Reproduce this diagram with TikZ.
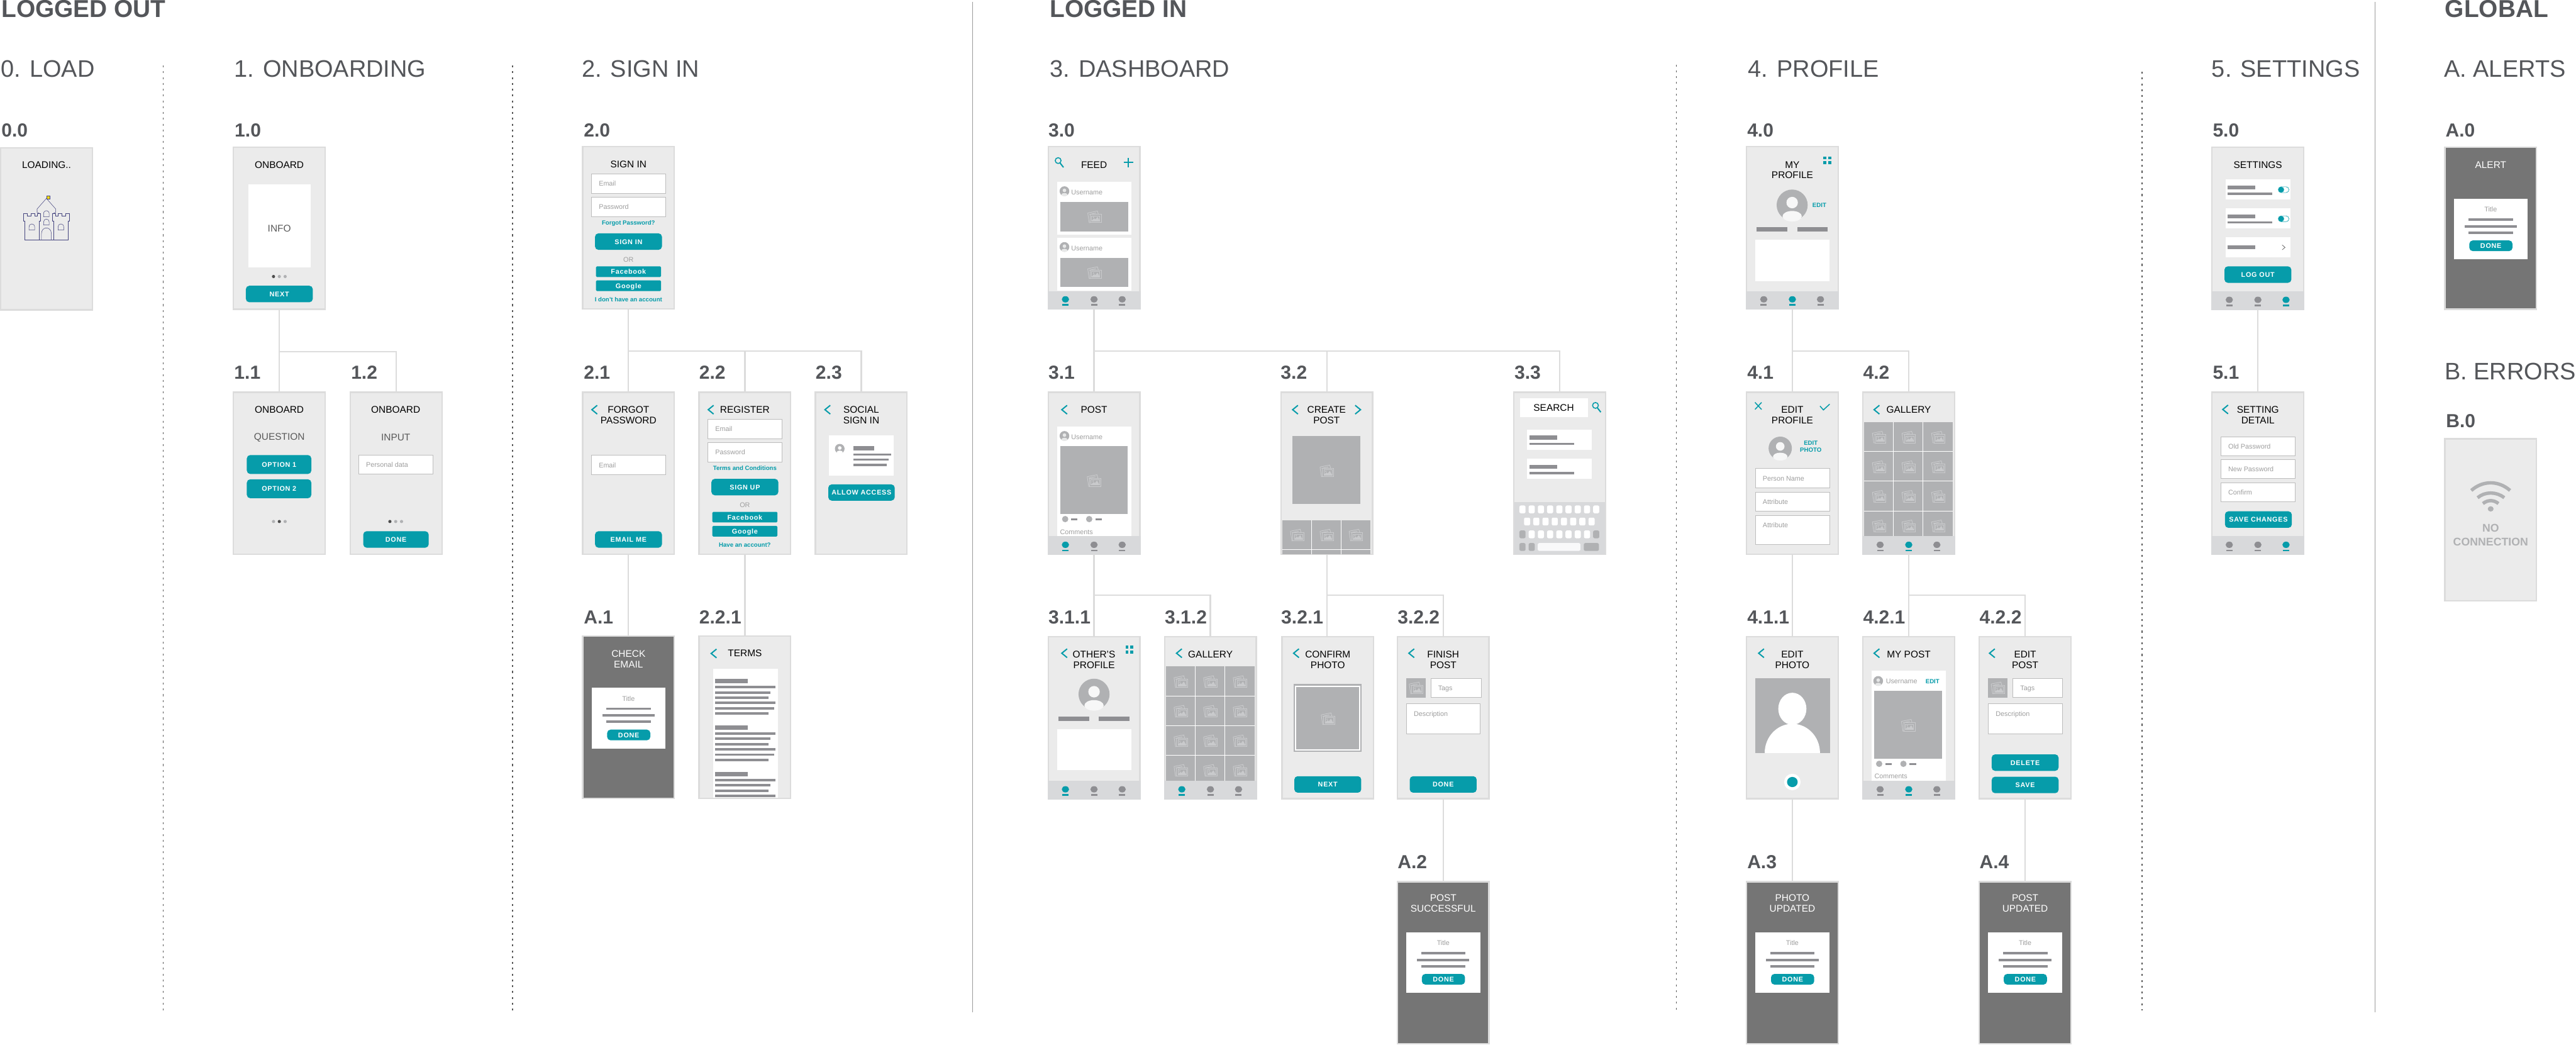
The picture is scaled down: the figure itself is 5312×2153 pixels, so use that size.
\documentclass[tikz,border=0pt]{standalone}
\usepackage{fontspec}
\setmainfont{Liberation Sans}
\newfontfamily\btnf{Liberation Sans}[LetterSpace=7]
\definecolor{scrfill}{HTML}{EBEBEB}
\definecolor{scredge}{HTML}{DCDCDC}
\definecolor{tealc}{HTML}{069CAA}
\definecolor{darkscr}{HTML}{757575}
\definecolor{barc}{HTML}{D8D9DB}
\definecolor{navg}{HTML}{8E8E92}
\definecolor{imgc}{HTML}{B0B1B3}
\definecolor{headc}{HTML}{54565A}
\definecolor{iconc}{HTML}{C9CACC}
\definecolor{inedge}{HTML}{BDBDBD}
\definecolor{phc}{HTML}{9E9E9E}
\definecolor{castle}{HTML}{45457F}
\definecolor{divc}{HTML}{9A9A9A}
\tikzset{
 scr/.style={draw=scredge,fill=scrfill,line width=1.5pt,minimum width=94.5pt,minimum height=167pt,inner sep=0pt,outer sep=0pt},
 dscr/.style={scr,fill=darkscr},
 link/.style={draw=scredge,line width=1.5pt},
 txt/.style={inner sep=0pt,outer sep=0pt,font=\fontsize{10}{11}\selectfont,text=black,align=center},
 wh/.style={txt,text=white},
 sub/.style={txt,text=black!65},
 ph/.style={txt,font=\fontsize{7}{8}\selectfont,text=phc,anchor=mid west},
 phc2/.style={txt,font=\fontsize{7}{8}\selectfont,text=phc,anchor=mid},
 lk/.style={txt,font=\fontsize{6.25}{7}\selectfont\bfseries,text=tealc,anchor=mid},
 bt/.style={txt,font=\btnf\fontsize{7}{8}\selectfont\bfseries,text=white,anchor=mid},
 head/.style={inner sep=0pt,outer sep=0pt,anchor=base west,font=\fontsize{24.6}{27}\selectfont,text=headc},
 grouphead/.style={head,font=\fontsize{25.2}{27}\selectfont\bfseries},
 lab/.style={head,font=\fontsize{19.5}{21}\selectfont\bfseries},
 inbox/.style={draw=inedge,fill=white,line width=.5pt},
 chv/.style={draw=tealc,line width=1.3pt},
 ic/.style={draw=iconc,line width=.6pt},
 dotdiv/.style={draw=black!65,line width=.8pt,dash pattern=on 2pt off 4pt},
 soldiv/.style={draw=divc,line width=.7pt},
}
\newcount\nid
\newcommand\tx[4]{\global\advance\nid by 1 \node[#1] (t\the\nid) at ({#2},{#3}) {#4};}
\newcommand\rct[5]{\fill[#5] (#1,#2) rectangle (#3,#4);}
\newcommand\lnb[4]{\fill[navg] (#1,#3-#4/2) rectangle (#2,#3+#4/2);}
\newcommand\inp[5]{\draw[inbox] (#1,#2) rectangle (#3,#4); \tx{ph}{#1+15}{(#2+#4)/2}{#5}}
\newcommand\btn[5]{\fill[tealc,rounded corners=3.5pt] (#1,#2) rectangle (#3,#4); \tx{bt}{(#1+#3)/2}{(#2+#4)/2}{#5}}
\newcommand\sbtn[5]{\fill[tealc,rounded corners=1pt] (#1,#2) rectangle (#3,#4); \tx{bt}{(#1+#3)/2}{(#2+#4)/2}{#5}}
\newcommand\chev[2]{\draw[chv] (#1+5.5,#2-9) -- (#1-5.5,#2) -- (#1+5.5,#2+9);}
\newcommand\chevr[2]{\draw[chv] (#1-5.5,#2-9) -- (#1+5.5,#2) -- (#1-5.5,#2+9);}
\newcommand\srch[2]{\draw[tealc,line width=1pt] (#1-3,#2-4) circle (6); \draw[tealc,line width=1.3pt] (#1+1,#2+1) -- (#1+8,#2+10);}
\newcommand\gridic[2]{\foreach \a in {-5,5}{\foreach \b in {-5,5}{\fill[tealc] (#1+\a-3,#2+\b-3) rectangle (#1+\a+3,#2+\b+3);}}}
\newcommand\icon[2]{\begin{scope}[shift={(#1,#2)}]
 \draw[ic] (-14,-8) -- (6,-12) -- (8,-5);
 \draw[ic] (-14,-8) -- (-11,12) -- (-9,12);
 \draw[ic] (-11,-5) -- (3,-8);
 \draw[ic] (-9,-5) rectangle (14,12);
 \draw[ic] (-6,-2) rectangle (11,9);
 \draw[ic,fill=iconc] (-5,8) -- (-1,4) -- (2,6) -- (6,1) -- (10,8) -- cycle;
 \fill[iconc] (-2,1) circle (1.5);
 \end{scope}}
\newcommand\avat[4]{\begin{scope}[shift={(#1,#2)},scale=#3]
 \fill[imgc] (0,0) circle (1);
 \fill[#4] (0,-.16) circle (.37);
 \fill[#4] (0,.72) ellipse [x radius=.62,y radius=.34];
 \end{scope}}
\newcommand\navdot[2]{\fill[#2] (#1,316) ellipse [x radius=7.5,y radius=6.5]; \fill[#2] (#1-6.5,326) rectangle (#1+6.5,329);}
\newcommand\navb[2]{\fill[barc] (0,#1) rectangle (192,337);
 \ifnum#2=1 \navdot{37}{tealc}\else\navdot{37}{navg}\fi
 \ifnum#2=2 \navdot{96}{tealc}\else\navdot{96}{navg}\fi
 \ifnum#2=3 \navdot{154}{tealc}\else\navdot{154}{navg}\fi}
\newcommand\pdots[2]{
 \ifnum#2=1 \fill[black!70] (#1-12,268) circle (3.3);\else\fill[imgc] (#1-12,268) circle (3.3);\fi
 \ifnum#2=2 \fill[black!70] (#1,268) circle (3.3);\else\fill[imgc] (#1,268) circle (3.3);\fi
 \ifnum#2=3 \fill[black!70] (#1+12,268) circle (3.3);\else\fill[imgc] (#1+12,268) circle (3.3);\fi}
\newcommand\aldlg[1]{\fill[white] (20,#1) rectangle (172.5,#1+125);
 \tx{phc2}{96}{#1+22}{Title}
 \lnb{50.5}{142}{#1+43}{5}\lnb{42}{150}{#1+57}{5}\lnb{50.5}{142}{#1+70}{5}
 \btn{52}{#1+86}{141}{#1+108}{DONE}}
\newcommand\screen[5][scr]{\node[#1,anchor=north west] (#2) at (#3+1.5,#4+1.5) {};
 \begin{scope}[shift={(#3,#4)}]#5\end{scope}}
\newcommand\galscr[1]{\fill[imgc] (4,63) rectangle (187,298);
 \foreach \v in {64.5,125.5}{\fill[white] (\v-.6,63) rectangle (\v+.6,298);}
 \foreach \v in {124,185,246}{\fill[white] (4,\v-.6) rectangle (187,\v+.6);}
 \foreach \a in {35,96,157}{\foreach \b in {94,155,216,277}{\icon{\a}{\b}}}
 \navb{298}{#1}}
\newcommand\tgl[1]{\draw[tealc,fill=white,line width=.4pt,rounded corners=3pt] (138,#1-6) rectangle (160,#1+6); \fill[tealc] (144,#1) circle (6);}
\newcommand\authf[3]{\inp{20}{57}{173}{97}{Email}\inp{20}{105}{173}{145}{Password}
 \tx{lk}{96}{157}{#1}\btn{27}{180}{165}{214}{#2}
 \tx{phc2}{96}{234}{OR}\sbtn{29}{248}{163}{270}{Facebook}\sbtn{29}{277}{163}{299}{Google}
 \tx{lk}{96}{315}{#3}}
\begin{document}
\begin{tikzpicture}[x=.5pt,y=-.5pt]
\useasboundingbox (0,0) rectangle (5312,2153);
\fill[white] (0,0) rectangle (5312,2153);
% dividers
\coordinate (d1a) at (337,135); \coordinate (d1b) at (337,2083);
\coordinate (d2a) at (1057,135); \coordinate (d2b) at (1057,2083);
\coordinate (d3a) at (3457,133); \coordinate (d3b) at (3457,2083);
\coordinate (d4a) at (4417,148); \coordinate (d4b) at (4417,2083);
\coordinate (g1a) at (2006,4); \coordinate (g1b) at (2006,2086);
\coordinate (g2a) at (4898,4); \coordinate (g2b) at (4898,2086);
\draw[dotdiv] (d1a) -- (d1b); \draw[dotdiv] (d2a) -- (d2b); \draw[dotdiv] (d3a) -- (d3b); \draw[dotdiv] (d4a) -- (d4b);
\draw[soldiv] (g1a) -- (g1b); \draw[soldiv] (g2a) -- (g2b);
% headings
\tx{grouphead}{3}{36}{LOGGED OUT}
\tx{grouphead}{2165}{36}{LOGGED IN}
\tx{grouphead}{5042}{36}{GLOBAL}
\tx{head}{2}{159}{0. LOAD}
\tx{head}{483}{159}{1. ONBOARDING}
\tx{head}{1200}{159}{2. SIGN IN}
\tx{head}{2165}{159}{3. DASHBOARD}
\tx{head}{3605}{159}{4. PROFILE}
\tx{head}{4561}{159}{5. SETTINGS}
\tx{head}{5040}{159}{A. ALERTS}
\tx{head}{5041}{783}{B. ERRORS}
% number labels
\tx{lab}{3}{282}{0.0}\tx{lab}{484}{282}{1.0}\tx{lab}{483}{782}{1.1}\tx{lab}{724}{782}{1.2}
\tx{lab}{1204}{282}{2.0}\tx{lab}{1204}{782}{2.1}\tx{lab}{1442}{782}{2.2}\tx{lab}{1682}{782}{2.3}
\tx{lab}{1204}{1286}{A.1}\tx{lab}{1442}{1286}{2.2.1}
\tx{lab}{2162}{282}{3.0}\tx{lab}{2162}{782}{3.1}\tx{lab}{2641}{782}{3.2}\tx{lab}{3123}{782}{3.3}
\tx{lab}{2162}{1286}{3.1.1}\tx{lab}{2402}{1286}{3.1.2}\tx{lab}{2642}{1286}{3.2.1}\tx{lab}{2882}{1286}{3.2.2}
\tx{lab}{2882}{1790}{A.2}
\tx{lab}{3603}{282}{4.0}\tx{lab}{3603}{782}{4.1}\tx{lab}{3842}{782}{4.2}
\tx{lab}{3603}{1286}{4.1.1}\tx{lab}{3842}{1286}{4.2.1}\tx{lab}{4082}{1286}{4.2.2}
\tx{lab}{3603}{1790}{A.3}\tx{lab}{4082}{1790}{A.4}
\tx{lab}{4563}{282}{5.0}\tx{lab}{4563}{782}{5.1}
\tx{lab}{5043}{282}{A.0}\tx{lab}{5044}{881}{B.0}
% 0.0
\screen{s00}{0}{303}{\tx{txt}{96}{37}{LOADING..}}
\begin{scope}[xscale=.6378,yscale=.7015,line width=.35pt]
 \draw[castle] (80,705) -- (80,650) -- (76,650) -- (76,628) -- (88,628) -- (88,634) -- (100,634) -- (100,628) -- (112,628) -- (112,634) -- (120,634) -- (120,628) -- (130,628) -- (130,650) -- (127,650) -- (127,705) -- cycle;
 \draw[castle] (220,705) -- (220,650) -- (225,650) -- (225,628) -- (212,628) -- (212,634) -- (200,634) -- (200,628) -- (188,628) -- (188,634) -- (180,634) -- (180,628) -- (170,628) -- (170,650) -- (173,650) -- (173,705) -- cycle;
 \draw[castle] (127,705) -- (173,705);
 \draw[castle] (130,628) -- (120,624) -- (120,614) -- (150,583) -- (180,614) -- (180,624) -- (170,628);
 \draw[castle] (134,705) -- (134,687) .. controls (134,664) and (166,664) .. (166,687) -- (166,705);
 \draw[castle] (94,676) -- (94,667) .. controls (94,655) and (112,655) .. (112,667) -- (112,676) -- cycle;
 \draw[castle] (188,676) -- (188,667) .. controls (188,655) and (206,655) .. (206,667) -- (206,676) -- cycle;
 \draw[castle] (141,637) -- (141,628) .. controls (141,616) and (159,616) .. (159,628) -- (159,637) -- cycle;
 \draw[castle] (141,661) -- (141,652) .. controls (141,641) and (159,641) .. (159,652) -- (159,661) -- cycle;
 \draw[castle] (150,583) -- (150,575);
 \draw[castle,fill=yellow!80!orange] (150,575) rectangle (162,584);
\end{scope}
% 1.x
\screen{s10}{480}{302}{\tx{txt}{96}{38}{ONBOARD}\rct{32}{78}{161}{249}{white}\tx{sub}{96}{169}{INFO}\pdots{96}{1}\btn{27}{287}{165}{321}{NEXT}}
\screen{s11}{480}{807}{\tx{txt}{96}{38}{ONBOARD}\tx{sub}{96}{94.5}{QUESTION}\btn{29}{131}{162}{170}{OPTION 1}\btn{29}{181}{162}{220}{OPTION 2}\pdots{96}{2}}
\screen{s12}{721}{807}{\tx{txt}{95}{38}{ONBOARD}\tx{sub}{95}{94.5}{INPUT}\inp{19}{131}{172}{170}{Personal data}\pdots{95}{1}\btn{28}{288}{163}{322}{DONE}}
% 2.x
\screen{s20}{1200}{301}{\tx{txt}{96}{37.5}{SIGN IN}\authf{Forgot Password?}{SIGN IN}{I don't have an account}}
\screen{s21}{1200}{807}{\chev{26}{37.5}\tx{txt}{96}{49}{FORGOT\\PASSWORD}\inp{20}{131.5}{173}{171.5}{Email}\btn{27}{288}{165}{322}{EMAIL ME}}
\screen{s22}{1440}{807}{\chev{26}{37.5}\tx{txt}{96}{37.5}{REGISTER}\authf{Terms and Conditions}{SIGN UP}{Have an account?}}
\screen{s23}{1680}{807}{\chev{26.6}{37.5}\tx{txt}{96}{49}{SOCIAL\\SIGN IN}\rct{29}{91}{163}{173}{white}\avat{51.6}{118}{10}{white}\lnb{80}{123}{116.5}{9}\lnb{80}{158}{130}{4.5}\lnb{80}{152}{140.5}{4.5}\lnb{80}{149}{151.5}{4.5}\btn{28}{191.5}{165}{225}{ALLOW ACCESS}}
\screen[dscr]{a1}{1200}{1310}{\tx{wh}{96}{48.5}{CHECK\\EMAIL}\aldlg{108}}
\screen{s221}{1440}{1310}{\chev{32}{37}\tx{txt}{96}{37}{TERMS}\rct{30}{68}{163.6}{334}{white}
 \lnb{35}{102}{94}{9}\lnb{35}{159}{106.6}{5}\lnb{35}{149}{117.4}{5}\lnb{35}{145}{128.3}{5}\lnb{35}{159}{139}{5}\lnb{35}{156}{150}{5}\lnb{35}{145}{160.8}{5}
 \lnb{35}{102}{189.5}{9}\lnb{35}{159}{202}{5}\lnb{35}{149}{213}{5}\lnb{35}{145}{224}{5}\lnb{35}{159}{235}{5}\lnb{35}{156}{245.6}{5}\lnb{35}{145}{256.5}{5}
 \lnb{35}{102}{285.8}{9}\lnb{35}{159}{298}{5}\lnb{35}{149}{308.8}{5}\lnb{35}{145}{319.6}{5}\lnb{35}{159}{330.4}{5}}
% 3.x
\screen{s30}{2160}{301}{\srch{25}{34}\tx{txt}{96}{38.7}{FEED}\draw[tealc,line width=1.2pt] (167,25) -- (167,44) (157,34) -- (177,34);
 \rct{20}{74}{173}{183}{white}\avat{35}{93}{10}{imgc!30}\tx{ph}{49}{95}{Username}\rct{26}{115.7}{166}{175.7}{imgc}\icon{97}{146}
 \rct{20}{189}{173}{298}{white}\avat{35}{208}{10}{imgc!30}\tx{ph}{49}{210}{Username}\rct{26}{230.8}{166}{290.8}{imgc}\icon{97}{261}
 \navb{299}{1}}
\screen{s31}{2160}{807}{\chev{35}{37.5}\tx{txt}{96}{38}{POST}\rct{20}{72}{173}{298}{white}\avat{35}{91.5}{10}{imgc!30}\tx{ph}{49}{93}{Username}\rct{26}{113}{165.6}{252}{imgc}\icon{96}{183.6}
 \fill[imgc] (36.5,263) circle (6.5);\lnb{49}{62}{263}{4}\fill[imgc] (86,263) circle (6.5);\lnb{99}{112}{263}{4}\tx{ph}{26}{289.7}{Comments}
 \navb{298}{1}}
\screen{s32}{2640}{807}{\chev{31}{37.5}\chevr{160}{37.5}\tx{txt}{95.5}{49}{CREATE\\POST}\rct{25}{92}{165}{232}{imgc}\icon{96}{163.6}
 \rct{3.7}{265}{186}{335}{imgc}\rct{64}{265}{65.2}{335}{white}\rct{124.5}{265}{125.7}{335}{white}\rct{3.7}{325.5}{186}{326.7}{white}\icon{35}{296}\icon{96}{296}\icon{156}{296}}
\screen{s33}{3120}{807}{\rct{14}{14}{155}{53}{white}\tx{txt}{84}{34}{SEARCH}\srch{173}{32.7}
 \rct{29}{79}{163}{120.6}{white}\lnb{34}{91}{95}{8}\lnb{34}{126.5}{108}{5}\rct{29}{138.8}{163}{180}{white}\lnb{34}{91}{155}{8}\lnb{34}{126.5}{168}{5}
 \rct{3}{228}{189}{335.5}{barc}
 \foreach \k in {0,...,8}{\fill[white,rounded corners=1.5pt] (19.5+19*\k-6.3,235) rectangle (19.5+19*\k+6.3,251);}
 \foreach \k in {0,...,7}{\fill[white,rounded corners=1.5pt] (29+19*\k-6.3,260) rectangle (29+19*\k+6.3,276);}
 \foreach \k in {1,...,7}{\fill[white,rounded corners=1.5pt] (19.5+19*\k-6.3,286.5) rectangle (19.5+19*\k+6.3,302.5);}
 \fill[imgc,rounded corners=1.5pt] (13.2,286.5) rectangle (25.8,302.5);\fill[imgc,rounded corners=1.5pt] (165.2,286.5) rectangle (177.8,302.5);
 \fill[imgc,rounded corners=1.5pt] (13.2,312.5) rectangle (25.8,328.5);\fill[imgc,rounded corners=1.5pt] (32.2,312.5) rectangle (44.8,328.5);
 \fill[white!85!barc,rounded corners=1.5pt] (51,312.5) rectangle (139,328.5);\fill[imgc,rounded corners=1.5pt] (146,312.5) rectangle (177,328.5);}
\screen{s311}{2160}{1311}{\chev{35}{35.5}\tx{txt}{96}{49}{OTHER'S\\PROFILE}\gridic{169}{28}\avat{96}{120}{32}{white!60!scrfill}\lnb{23}{86}{170.5}{9}\lnb{106}{169.6}{170.5}{9}\rct{20}{192}{173}{277}{white}\navb{298}{1}}
\screen{s312}{2400}{1311}{\chev{31.6}{35.5}\tx{txt}{96}{38}{GALLERY}\galscr{1}}
\screen{s321}{2642}{1311}{\chev{31}{35.5}\tx{txt}{96}{49}{CONFIRM\\PHOTO}\rct{25.6}{99}{166}{239}{imgc}\rct{28}{102}{163.6}{236}{white}\rct{31}{105}{160.6}{233}{imgc}\icon{96.5}{170.5}\btn{27}{289}{165}{323}{NEXT}}
\screen{s322}{2880}{1311}{\chev{30.7}{35.5}\tx{txt}{96}{49}{FINISH\\POST}\rct{20}{87}{60}{127}{imgc}\icon{40}{107}\inp{70.6}{87}{174}{127}{Tags}\draw[inbox] (20,140) rectangle (172.6,201);\tx{ph}{35.5}{160}{Description}\btn{27}{289}{165}{323}{DONE}}
\screen[dscr]{a2}{2880}{1816}{\tx{wh}{96}{46}{POST\\SUCCESSFUL}\aldlg{105.6}}
% 4.x
\screen{s40}{3600}{301}{\tx{txt}{96}{49.5}{MY\\PROFILE}\gridic{168}{29.6}\avat{95.6}{121.7}{32}{white!60!scrfill}\tx{lk}{151.7}{120.5}{EDIT}\lnb{22.7}{86}{172}{9}\lnb{105.8}{169}{172}{9}\rct{20}{193}{173}{279}{white}\navb{299}{2}}
\screen{s41}{3600}{807}{\draw[tealc,line width=1pt] (19,22.5) -- (32.5,37) (32.5,22.5) -- (19,37);\draw[tealc,line width=1pt] (153,30) -- (160,38) -- (173,26);\tx{txt}{96}{49}{EDIT\\PROFILE}\avat{71}{117}{24}{white!60!scrfill}\tx{lk}{134}{119.7}{EDIT\\PHOTO}
 \inp{20}{159}{173}{199}{Person Name}\inp{20}{207}{173}{247}{Attribute}\draw[inbox] (20,255) rectangle (173,315.7);\tx{ph}{35}{275}{Attribute}}
\screen{s42}{3840}{807}{\chev{30}{37.5}\tx{txt}{96}{38}{GALLERY}\galscr{2}}
\screen{s411}{3600}{1311}{\chev{32}{35.5}\tx{txt}{96}{49}{EDIT\\PHOTO}\rct{19}{87}{174}{241}{imgc}\begin{scope}\clip (19,87) rectangle (174,241);\fill[white] (96,241) ellipse [x radius=57,y radius=60];\fill[white] (96,150) ellipse [x radius=29,y radius=33];\end{scope}\fill[white] (96,301) ellipse [x radius=17,y radius=17];\fill[tealc] (96,301) ellipse [x radius=11,y radius=10.5];}
\screen{s421}{3840}{1311}{\chev{30}{35.5}\tx{txt}{96}{38}{MY POST}\rct{19}{72}{172}{298}{white}\avat{33}{92.6}{10}{imgc!30}\tx{ph}{49}{93}{Username}\tx{lk}{145}{93}{EDIT}\rct{25}{113}{165}{253}{imgc}\icon{95}{184}
 \fill[imgc] (35,263.5) circle (6.5);\lnb{48}{61}{263.5}{4}\fill[imgc] (85,263.5) circle (6.5);\lnb{97}{111}{263.5}{4}\tx{ph}{25.5}{289}{Comments}\navb{298}{2}}
\screen{s422}{4080}{1311}{\chev{28}{35.5}\tx{txt}{96}{49}{EDIT\\POST}\rct{20}{87}{60}{127}{imgc}\icon{40}{107}\inp{71}{87}{173}{127}{Tags}\draw[inbox] (20,140) rectangle (173,201);\tx{ph}{35.5}{160}{Description}\btn{27}{244}{165}{278}{DELETE}\btn{27}{290}{165}{324}{SAVE}}
\screen[dscr]{a3}{3600}{1816}{\tx{wh}{96}{46}{PHOTO\\UPDATED}\aldlg{105.6}}
\screen[dscr]{a4}{4080}{1816}{\tx{wh}{96}{46}{POST\\UPDATED}\aldlg{105.6}}
% 5.x
\screen{s50}{4560}{302}{\tx{txt}{96}{38}{SETTINGS}
 \rct{29}{68}{163}{109}{white}\lnb{34}{91}{84.4}{8}\lnb{34}{126}{97}{5}\tgl{89}
 \rct{29}{127.5}{163}{169}{white}\lnb{34}{91}{144}{8}\lnb{34}{126}{156.5}{5}\tgl{149}
 \rct{29}{187}{163}{229}{white}\lnb{34}{91}{208}{8}\draw[black!70,line width=.4pt] (146,203) -- (152,208) -- (146,213);
 \btn{27}{247}{165}{281}{LOG OUT}\navb{298}{3}}
\screen{s51}{4560}{807}{\chev{29}{37}\tx{txt}{96}{48}{SETTING\\DETAIL}\inp{20}{93.5}{172.5}{132.5}{Old Password}\inp{20}{140}{172.5}{179}{New Password}\inp{20}{188}{172.5}{227}{Confirm}\btn{28}{247}{166}{281}{SAVE CHANGES}\navb{298}{3}}
\screen[dscr]{a0}{5040}{302}{\tx{wh}{96}{38}{ALERT}\aldlg{107.6}}
\screen{b0}{5040}{903}{\draw[imgc,line width=3.5pt] (56,108) .. controls (80,87) and (112,87) .. (136,108);\draw[imgc,line width=3.5pt] (69,123) .. controls (84,110) and (108,110) .. (124,123);\draw[imgc,line width=3.5pt] (80,135) .. controls (90,127) and (102,127) .. (112,135);\fill[imgc] (96,146) ellipse [x radius=6,y radius=5.5];\tx{txt,font=\fontsize{11.5}{14}\selectfont\bfseries,text=imgc}{96}{199.5}{NO\\CONNECTION}}
% connectors
\draw[link] (s10.south) -- (s11.north);
\draw[link] (s10.south) -- ++(0,87) -| (s12.north);
\draw[link] (s20.south) -- (s21.north);
\draw[link] (s20.south) -- ++(0,87) -| (s22.north);
\draw[link] (s20.south) -- ++(0,87) -| (s23.north);
\draw[link] (s21.south) -- (a1.north);
\draw[link] (s22.south) -- (s221.north);
\draw[link] (s30.south) -- (s31.north);
\draw[link] (s30.south) -- ++(0,87) -| (s32.north);
\draw[link] (s30.south) -- ++(0,87) -| (s33.north);
\draw[link] (s31.south) -- (s311.north);
\draw[link] (s31.south) -- ++(0,84) -| (s312.north);
\draw[link] (s32.south) -- (s32.south |- s321.north);
\draw[link] (s32.south) -- ++(0,84) -| (s322.north);
\draw[link] (s322.south) -- (a2.north);
\draw[link] (s40.south) -- (s41.north);
\draw[link] (s40.south) -- ++(0,87) -| (s42.north);
\draw[link] (s41.south) -- (s411.north);
\draw[link] (s42.south) -- (s421.north);
\draw[link] (s42.south) -- ++(0,84) -| (s422.north);
\draw[link] (s411.south) -- (a3.north);
\draw[link] (s422.south) -- (a4.north);
\draw[link] (s50.south) -- (s51.north);
\end{tikzpicture}
\end{document}
